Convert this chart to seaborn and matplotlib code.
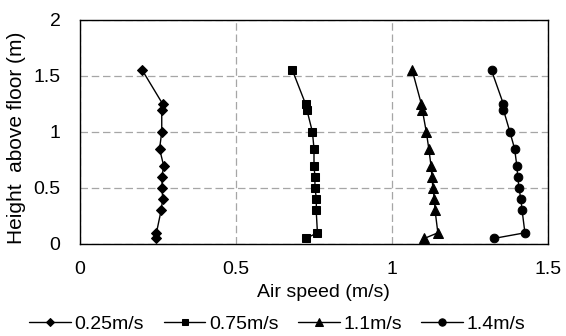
import numpy as np
import pandas as pd
import matplotlib
matplotlib.use("Agg")
import matplotlib.pyplot as plt
import seaborn as sns
from matplotlib.ticker import MultipleLocator

heights = [1.55, 1.25, 1.2, 1.0, 0.85, 0.7, 0.6, 0.5, 0.4, 0.3, 0.1, 0.05]
speed_025 = [0.20, 0.265, 0.262, 0.262, 0.255, 0.268, 0.263, 0.263, 0.265, 0.26, 0.245, 0.245]
speed_075 = [0.681, 0.723, 0.727, 0.745, 0.75, 0.75, 0.753, 0.753, 0.758, 0.757, 0.761, 0.724]
speed_110 = [1.065, 1.094, 1.097, 1.11, 1.118, 1.125, 1.128, 1.131, 1.136, 1.138, 1.147, 1.104]
speed_140 = [1.319, 1.357, 1.357, 1.378, 1.393, 1.40, 1.403, 1.407, 1.413, 1.417, 1.426, 1.327]
series_names = ["0.25m/s", "0.75m/s", "1.1m/s", "1.4m/s"]
x_ticks = [0, 0.5, 1, 1.5]
x_tick_labels = ["0", "0.5", "1", "1.5"]
y_ticks = [0, 0.5, 1, 1.5, 2]
y_tick_labels = ["0", "0.5", "1", "1.5", "2"]

sns.set_style("white")
plt.rcParams["font.family"] = ["Liberation Sans", "DejaVu Sans"]
plt.rcParams["text.color"] = "black"
plt.rcParams["axes.labelcolor"] = "black"
plt.rcParams["xtick.color"] = "black"
plt.rcParams["ytick.color"] = "black"

rows = []
for name, vals in zip(series_names, [speed_025, speed_075, speed_110, speed_140]):
    for i, (h, v) in enumerate(zip(heights, vals)):
        rows.append({"series": name, "speed": v, "height": h, "order": i})
df = pd.DataFrame(rows)

fig = plt.figure(figsize=(5.66, 3.36), dpi=100)
ax = fig.add_axes([80/566, 1-244/336, 468/566, 224/336])

markers = {"0.25m/s": "D", "0.75m/s": "s", "1.1m/s": "^", "1.4m/s": "o"}
sizes = {"0.25m/s": 5.2, "0.75m/s": 5.8, "1.1m/s": 6.5, "1.4m/s": 6.2}
for name in series_names:
    sub = df[df["series"] == name]
    sns.lineplot(data=sub, x="speed", y="height", sort=False, estimator=None,
                 color="black", marker=markers[name], markersize=sizes[name],
                 markeredgecolor="black", markerfacecolor="black",
                 linewidth=1.0, label=name, ax=ax)

ax.set_xlim(0, 1.5)
ax.set_ylim(0, 2)
ax.set_xticks(x_ticks)
ax.set_xticklabels(x_tick_labels)
ax.set_yticks(y_ticks)
ax.set_yticklabels(y_tick_labels)
ax.xaxis.set_minor_locator(MultipleLocator(0.1))
ax.tick_params(axis="x", which="both", direction="in", length=3.5, width=0.8,
               color="black", labelsize=14, pad=12)
ax.tick_params(axis="y", which="both", length=0, labelsize=14, pad=14)
ax.tick_params(axis="x", which="major", length=0)

ax.grid(True, which="major", color="#a6a6a6", linestyle=(0, (6, 3)), linewidth=0.9)
for s in ax.spines.values():
    s.set_color("black")
    s.set_linewidth(1.0)
    s.set_visible(True)

ax.set_xlabel("Air speed (m/s)", fontsize=14)
ax.set_ylabel("Height  above floor (m)", fontsize=15)
ax.xaxis.set_label_coords(0.52, -0.18)
ax.xaxis.label.set_va("top")
ax.yaxis.set_label_coords(-0.115, 0.473)

handles, labels = ax.get_legend_handles_labels()
if ax.legend_:
    ax.legend_.remove()
fig.legend(handles, labels, loc="center", bbox_to_anchor=(0.49, 1-324/336),
           ncol=4, frameon=False, fontsize=14, handlelength=2.15,
           handletextpad=0.18, columnspacing=1.0, borderaxespad=0,
           markerscale=0.85)

fig.savefig("out.png", dpi=100)
